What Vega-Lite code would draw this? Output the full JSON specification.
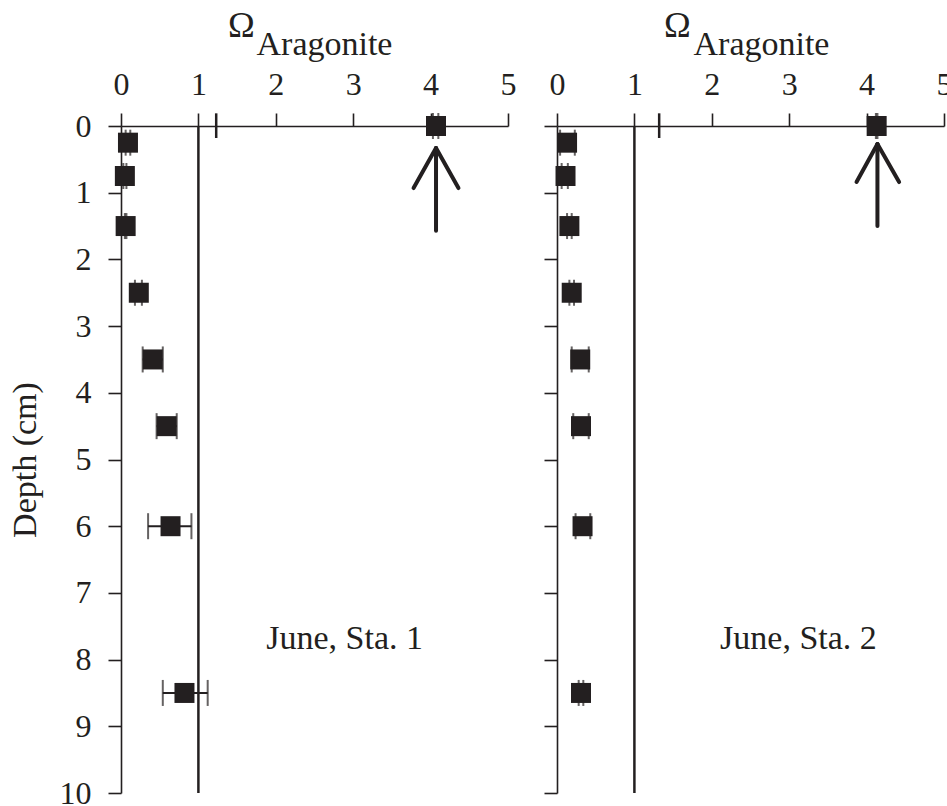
{
  "$schema": "https://vega.github.io/schema/vega-lite/v6.json",
  "background": "white",
  "padding": {"left": 8, "top": 8, "right": 0, "bottom": 0},
  "spacing": 49,
  "bounds": "flush",
  "config": {
    "view": {"stroke": null},
    "font": "Liberation Serif",
    "axis": {
      "domainColor": "#231f20", "domainWidth": 1.6, "tickColor": "#231f20", "tickWidth": 1.6,
      "labelFont": "Liberation Serif", "labelFontSize": 32, "labelColor": "#231f20",
      "titleFont": "Liberation Serif", "titleFontSize": 34, "titleFontWeight": "normal", "titleColor": "#231f20",
      "grid": false, "tickSize": 13, "format": "d", "labelFlush": false, "labelOverlap": false
    },
    "title": {"font": "Liberation Serif", "fontSize": 36, "fontWeight": "normal", "color": "#231f20"}
  },
  "datasets": {
    "points": [
      {"panel": "Sta1", "depth": 0, "omega": 4.07, "lo": 4.03, "hi": 4.1},
      {"panel": "Sta1", "depth": 0.25, "omega": 0.09, "lo": 0.06, "hi": 0.12},
      {"panel": "Sta1", "depth": 0.75, "omega": 0.05, "lo": 0.03, "hi": 0.07},
      {"panel": "Sta1", "depth": 1.5, "omega": 0.06, "lo": 0.05, "hi": 0.07},
      {"panel": "Sta1", "depth": 2.5, "omega": 0.23, "lo": 0.18, "hi": 0.27},
      {"panel": "Sta1", "depth": 3.5, "omega": 0.41, "lo": 0.28, "hi": 0.54},
      {"panel": "Sta1", "depth": 4.5, "omega": 0.59, "lo": 0.46, "hi": 0.72},
      {"panel": "Sta1", "depth": 6, "omega": 0.64, "lo": 0.35, "hi": 0.91},
      {"panel": "Sta1", "depth": 8.5, "omega": 0.82, "lo": 0.54, "hi": 1.12},
      {"panel": "Sta2", "depth": 0, "omega": 4.13, "lo": 4.12, "hi": 4.14},
      {"panel": "Sta2", "depth": 0.25, "omega": 0.13, "lo": 0.04, "hi": 0.23},
      {"panel": "Sta2", "depth": 0.75, "omega": 0.11, "lo": 0.06, "hi": 0.14},
      {"panel": "Sta2", "depth": 1.5, "omega": 0.16, "lo": 0.13, "hi": 0.19},
      {"panel": "Sta2", "depth": 2.5, "omega": 0.19, "lo": 0.16, "hi": 0.22},
      {"panel": "Sta2", "depth": 3.5, "omega": 0.3, "lo": 0.19, "hi": 0.41},
      {"panel": "Sta2", "depth": 4.5, "omega": 0.31, "lo": 0.21, "hi": 0.41},
      {"panel": "Sta2", "depth": 6, "omega": 0.33, "lo": 0.24, "hi": 0.43},
      {"panel": "Sta2", "depth": 8.5, "omega": 0.31, "lo": 0.28, "hi": 0.34}
    ],
    "segs": [
      {"panel": "Sta1", "kind": "ref", "x": 1, "x2": 1, "y": 0, "y2": 10},
      {"panel": "Sta1", "kind": "mark", "x": 1.23, "x2": 1.23, "y": -0.19, "y2": 0.18},
      {"panel": "Sta1", "kind": "arrow", "x": 4.07, "x2": 4.07, "y": 0.33, "y2": 1.57},
      {"panel": "Sta1", "kind": "arrow", "x": 4.07, "x2": 3.78, "y": 0.33, "y2": 0.93},
      {"panel": "Sta1", "kind": "arrow", "x": 4.07, "x2": 4.36, "y": 0.33, "y2": 0.93},
      {"panel": "Sta2", "kind": "ref", "x": 1, "x2": 1, "y": 0, "y2": 10},
      {"panel": "Sta2", "kind": "mark", "x": 1.32, "x2": 1.32, "y": -0.19, "y2": 0.18},
      {"panel": "Sta2", "kind": "arrow", "x": 4.14, "x2": 4.14, "y": 0.27, "y2": 1.5},
      {"panel": "Sta2", "kind": "arrow", "x": 4.14, "x2": 3.87, "y": 0.27, "y2": 0.84},
      {"panel": "Sta2", "kind": "arrow", "x": 4.14, "x2": 4.42, "y": 0.27, "y2": 0.84}
    ],
    "labels": [
      {"panel": "Sta1", "x": 2.89, "y": 7.69, "text": "June, Sta. 1"},
      {"panel": "Sta2", "x": 3.12, "y": 7.69, "text": "June, Sta. 2"}
    ]
  },
  "hconcat": [
    {
      "width": 387, "height": 667,
      "title": {"text": "Ω", "anchor": "start", "frame": "group", "dx": 107, "offset": -18},
      "layer": [
        {
          "data": {"name": "segs"},
          "transform": [{"filter": "datum.panel == 'Sta1' && datum.kind != 'arrow'"}],
          "mark": {"type": "rule", "color": "#231f20", "strokeWidth": 2.5},
          "encoding": {
            "x": {"field": "x", "type": "quantitative", "scale": {"domain": [0, 5], "nice": false, "zero": false},
                  "axis": {"orient": "top", "values": [0, 1, 2, 3, 4, 5], "labelPadding": 12, "title": "Aragonite", "titleX": 135, "titleY": -72, "titleAlign": "left", "titleBaseline": "alphabetic", "titleAnchor": null}},
            "x2": {"field": "x2"},
            "y": {"field": "y", "type": "quantitative", "scale": {"domain": [0, 10], "reverse": true, "nice": false},
                  "axis": {"orient": "left", "values": [0, 1, 2, 3, 4, 5, 6, 7, 8, 9, 10], "labelPadding": 17, "title": "Depth (cm)", "titlePadding": 17}},
            "y2": {"field": "y2"}
          }
        },
        {
          "data": {"name": "segs"},
          "transform": [{"filter": "datum.panel == 'Sta1' && datum.kind == 'arrow'"}],
          "mark": {"type": "rule", "color": "#231f20", "strokeWidth": 4, "strokeCap": "round"},
          "encoding": {
            "x": {"field": "x", "type": "quantitative"},
            "x2": {"field": "x2"},
            "y": {"field": "y", "type": "quantitative"},
            "y2": {"field": "y2"}
          }
        },
        {
          "data": {"name": "points"},
          "transform": [{"filter": "datum.panel == 'Sta1'"}],
          "mark": {"type": "rule", "color": "#231f20", "strokeWidth": 2},
          "encoding": {
            "x": {"field": "lo", "type": "quantitative"},
            "x2": {"field": "hi"},
            "y": {"field": "depth", "type": "quantitative"}
          }
        },
        {
          "data": {"name": "points"},
          "transform": [{"filter": "datum.panel == 'Sta1'"}, {"fold": ["lo", "hi"], "as": ["end", "val"]}],
          "mark": {"type": "tick", "orient": "vertical", "color": "#231f20", "size": 26, "thickness": 2},
          "encoding": {
            "x": {"field": "val", "type": "quantitative"},
            "y": {"field": "depth", "type": "quantitative"}
          }
        },
        {
          "data": {"name": "points"},
          "transform": [{"filter": "datum.panel == 'Sta1'"}],
          "mark": {"type": "square", "color": "#231f20", "opacity": 1, "size": 400},
          "encoding": {
            "x": {"field": "omega", "type": "quantitative"},
            "y": {"field": "depth", "type": "quantitative"}
          }
        },
        {
          "data": {"name": "labels"},
          "transform": [{"filter": "datum.panel == 'Sta1'"}],
          "mark": {"type": "text", "font": "Liberation Serif", "fontSize": 34, "color": "#231f20", "align": "center", "baseline": "middle"},
          "encoding": {
            "x": {"field": "x", "type": "quantitative"},
            "y": {"field": "y", "type": "quantitative"},
            "text": {"field": "text"}
          }
        }
      ]
    },
    {
      "width": 387, "height": 667,
      "title": {"text": "Ω", "anchor": "start", "frame": "group", "dx": 107, "offset": -18},
      "layer": [
        {
          "data": {"name": "segs"},
          "transform": [{"filter": "datum.panel == 'Sta2' && datum.kind != 'arrow'"}],
          "mark": {"type": "rule", "color": "#231f20", "strokeWidth": 2.5},
          "encoding": {
            "x": {"field": "x", "type": "quantitative", "scale": {"domain": [0, 5], "nice": false, "zero": false},
                  "axis": {"orient": "top", "values": [0, 1, 2, 3, 4, 5], "labelPadding": 12, "title": "Aragonite", "titleX": 136, "titleY": -72, "titleAlign": "left", "titleBaseline": "alphabetic", "titleAnchor": null}},
            "x2": {"field": "x2"},
            "y": {"field": "y", "type": "quantitative", "scale": {"domain": [0, 10], "reverse": true, "nice": false},
                  "axis": {"orient": "left", "values": [0, 1, 2, 3, 4, 5, 6, 7, 8, 9, 10], "labels": false, "title": null}},
            "y2": {"field": "y2"}
          }
        },
        {
          "data": {"name": "segs"},
          "transform": [{"filter": "datum.panel == 'Sta2' && datum.kind == 'arrow'"}],
          "mark": {"type": "rule", "color": "#231f20", "strokeWidth": 4, "strokeCap": "round"},
          "encoding": {
            "x": {"field": "x", "type": "quantitative"},
            "x2": {"field": "x2"},
            "y": {"field": "y", "type": "quantitative"},
            "y2": {"field": "y2"}
          }
        },
        {
          "data": {"name": "points"},
          "transform": [{"filter": "datum.panel == 'Sta2'"}],
          "mark": {"type": "rule", "color": "#231f20", "strokeWidth": 2},
          "encoding": {
            "x": {"field": "lo", "type": "quantitative"},
            "x2": {"field": "hi"},
            "y": {"field": "depth", "type": "quantitative"}
          }
        },
        {
          "data": {"name": "points"},
          "transform": [{"filter": "datum.panel == 'Sta2'"}, {"fold": ["lo", "hi"], "as": ["end", "val"]}],
          "mark": {"type": "tick", "orient": "vertical", "color": "#231f20", "size": 26, "thickness": 2},
          "encoding": {
            "x": {"field": "val", "type": "quantitative"},
            "y": {"field": "depth", "type": "quantitative"}
          }
        },
        {
          "data": {"name": "points"},
          "transform": [{"filter": "datum.panel == 'Sta2'"}],
          "mark": {"type": "square", "color": "#231f20", "opacity": 1, "size": 400},
          "encoding": {
            "x": {"field": "omega", "type": "quantitative"},
            "y": {"field": "depth", "type": "quantitative"}
          }
        },
        {
          "data": {"name": "labels"},
          "transform": [{"filter": "datum.panel == 'Sta2'"}],
          "mark": {"type": "text", "font": "Liberation Serif", "fontSize": 34, "color": "#231f20", "align": "center", "baseline": "middle"},
          "encoding": {
            "x": {"field": "x", "type": "quantitative"},
            "y": {"field": "y", "type": "quantitative"},
            "text": {"field": "text"}
          }
        }
      ]
    }
  ]
}
